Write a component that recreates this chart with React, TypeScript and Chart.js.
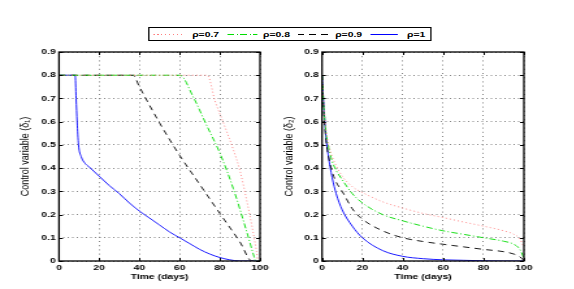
import React, { useEffect, useRef } from "react";
import { Chart, registerables } from "chart.js";

Chart.register(...registerables);

// ---- data ----
const seriesLabels = ["ρ=0.7", "ρ=0.8", "ρ=0.9", "ρ=1"];
const xTicks = [0, 20, 40, 60, 80, 100];
const yTicks = [0, 0.1, 0.2, 0.3, 0.4, 0.5, 0.6, 0.7, 0.8, 0.9];

// Left panel: control variable delta1
const d1Rho07T = [0, 73.8, 77.6, 82, 86.7, 90, 93.4, 96, 98.3, 99, 100];
const d1Rho07V = [0.8, 0.8, 0.69, 0.59, 0.48, 0.39, 0.26, 0.15, 0.04, 0, 0];
const d1Rho08T = [0, 60.1, 66.8, 73.4, 80.1, 86.7, 93.4, 97, 97.8, 100];
const d1Rho08V = [0.8, 0.8, 0.706, 0.585, 0.463, 0.312, 0.126, 0.02, 0, 0];
const d1Rho09T = [0, 36.9, 40, 50, 60, 70, 80, 90, 96, 100];
const d1Rho09V = [0.8, 0.8, 0.75, 0.595, 0.455, 0.33, 0.205, 0.082, 0, 0];
const d1Rho10T = [0, 8, 8.5, 9, 9.7, 11, 13, 15, 20, 25, 30, 35, 40, 45, 50, 55, 60, 65, 70, 75, 80, 85, 90, 100];
const d1Rho10V = [0.8, 0.8, 0.7, 0.6, 0.5, 0.45, 0.42, 0.405, 0.365, 0.325, 0.29, 0.25, 0.215, 0.185, 0.155, 0.125, 0.1, 0.075, 0.05, 0.03, 0.015, 0.005, 0, 0];

// Right panel: control variable delta2
const d2T = [0, 1, 2, 3, 5, 7, 10, 15, 20, 30, 40, 50, 60, 70, 80, 90, 95, 98, 100];
const d2Rho07V = [0.8, 0.66, 0.56, 0.51, 0.45, 0.41, 0.365, 0.32, 0.295, 0.255, 0.228, 0.205, 0.187, 0.168, 0.15, 0.13, 0.115, 0.095, 0.06];
const d2Rho08V = [0.8, 0.65, 0.55, 0.5, 0.43, 0.39, 0.35, 0.29, 0.25, 0.2, 0.173, 0.15, 0.13, 0.115, 0.1, 0.085, 0.072, 0.05, 0.012];
const d2Rho09V = [0.8, 0.62, 0.52, 0.46, 0.385, 0.34, 0.3, 0.225, 0.18, 0.13, 0.1, 0.084, 0.072, 0.061, 0.05, 0.04, 0.03, 0.018, 0.002];
const d2Rho10V = [0.8, 0.65, 0.53, 0.46, 0.36, 0.29, 0.22, 0.15, 0.1, 0.045, 0.02, 0.01, 0.005, 0.003, 0.001, 0, 0, 0, 0];

// ---- styles ----
const S = 1.3; // horizontal stretch of the reference
const W = 574 / S;
const colors = ["#ff7f7f", "#00dd00", "#000000", "#0000ff"];
const dashes: number[][] = [[1, 2.2], [5, 2, 1, 2], [5, 4], []];
const FONT = "'Liberation Sans', Arial, Helvetica, sans-serif";

function pts(t: number[], v: number[]) {
  return t.map((x, i) => ({ x, y: v[i] }));
}

const frame = {
  id: "frame",
  afterDatasetsDraw(chart: any) {
    const { ctx, chartArea: a, scales } = chart;
    ctx.save();
    ctx.strokeStyle = "#000";
    ctx.lineWidth = 1;
    const tl = 3;
    ctx.beginPath();
    for (const v of xTicks) {
      const px = Math.round(scales.x.getPixelForValue(v)) + 0.5;
      ctx.moveTo(px, a.bottom);
      ctx.lineTo(px, a.bottom - tl);
      ctx.moveTo(px, a.top);
      ctx.lineTo(px, a.top + tl);
    }
    for (const v of yTicks) {
      const py = Math.round(scales.y.getPixelForValue(v)) + 0.5;
      ctx.moveTo(a.left, py);
      ctx.lineTo(a.left + tl, py);
      ctx.moveTo(a.right, py);
      ctx.lineTo(a.right - tl, py);
    }
    ctx.stroke();
    ctx.lineWidth = 1.3;
    ctx.strokeRect(a.left, a.top, a.right - a.left, a.bottom - a.top);
    ctx.restore();
  },
};

function makeChart(
  canvas: HTMLCanvasElement,
  data: { x: number; y: number }[][],
  yTitle: string,
  yAxisWidth: number,
  yTitlePad: number,
  padRight: number
) {
  return new Chart(canvas, {
    type: "line",
    data: {
      datasets: data.map((d, i) => ({
        label: seriesLabels[i],
        data: d,
        borderColor: colors[i],
        borderWidth: i === 3 ? 0.9 : 0.9,
        borderDash: dashes[i],
        pointRadius: 0,
        fill: false,
        cubicInterpolationMode: "monotone" as const,
      })),
    },
    options: {
      animation: false,
      responsive: false,
      devicePixelRatio: 1,
      layout: { padding: { top: 52, right: padRight, left: 0, bottom: 0 } },
      plugins: { legend: { display: false }, tooltip: { enabled: false } },
      scales: {
        x: {
          type: "linear",
          min: 0,
          max: 100,
          afterBuildTicks: (s: any) => {
            s.ticks = xTicks.map((v) => ({ value: v }));
          },
          afterFit: (s: any) => {
            s.height = 28;
          },
          ticks: {
            color: "#000",
            font: { family: FONT, size: 8, weight: "bold" },
            padding: 2,
            maxRotation: 0,
            callback: (v: any) => String(v),
          },
          grid: {
            color: "#666",
            lineWidth: 0.8,
            drawTicks: false,
          },
          border: { display: false, dash: [1, 3.2] },
          title: {
            display: true,
            text: "Time (days)",
            color: "#000",
            font: { family: FONT, size: 8, weight: "bold" },
            padding: { top: 0, bottom: 7 },
          },
        },
        y: {
          type: "linear",
          min: 0,
          max: 0.9,
          afterBuildTicks: (s: any) => {
            s.ticks = yTicks.map((v) => ({ value: v }));
          },
          afterFit: (s: any) => {
            s.width = yAxisWidth;
          },
          ticks: {
            color: "#000",
            font: { family: FONT, size: 8, weight: "bold" },
            padding: 2.5,
            callback: (v: any) => (v === 0 ? "0" : Number(v).toFixed(1)),
          },
          grid: {
            color: "#666",
            lineWidth: 0.8,
            drawTicks: false,
          },
          border: { display: false, dash: [1, 2.5] },
          title: {
            display: true,
            text: yTitle,
            color: "#000",
            font: { family: FONT, size: 9, weight: "normal" },
            padding: { top: yTitlePad, bottom: 0 },
          },
        },
      },
    },
    plugins: [frame],
  } as any);
}

function LineSample({ i, left, width }: { i: number; left: number; width: number }) {
  let bg = "";
  const c = colors[i];
  if (i === 0) bg = `repeating-linear-gradient(to right, ${c} 0 1px, transparent 1px 3px)`;
  else if (i === 1)
    bg = `repeating-linear-gradient(to right, ${c} 0 5px, transparent 5px 7px, ${c} 7px 8px, transparent 8px 10px)`;
  else if (i === 2) bg = `repeating-linear-gradient(to right, ${c} 0 5px, transparent 5px 9px)`;
  else bg = c;
  return (
    <div
      style={{
        position: "absolute",
        left,
        top: 6,
        width,
        height: 1,
        background: bg,
      }}
    />
  );
}

function LegendText({ text, left }: { text: string; left: number }) {
  return (
    <div
      style={{
        position: "absolute",
        left,
        top: 0,
        height: 13,
        lineHeight: "13px",
        fontFamily: FONT,
        fontSize: 8,
        fontWeight: "bold",
        color: "#000",
        whiteSpace: "nowrap",
      }}
    >
      {text}
    </div>
  );
}

export default function App() {
  const leftRef = useRef<HTMLCanvasElement>(null);
  const rightRef = useRef<HTMLCanvasElement>(null);

  useEffect(() => {
    const c1 = makeChart(
      leftRef.current!,
      [pts(d1Rho07T, d1Rho07V), pts(d1Rho08T, d1Rho08V), pts(d1Rho09T, d1Rho09V), pts(d1Rho10T, d1Rho10V)],
      "Control variable (δ₁)",
      45.4,
      13.8,
      22
    );
    const c2 = makeChart(
      rightRef.current!,
      [pts(d2T, d2Rho07V), pts(d2T, d2Rho08V), pts(d2T, d2Rho09V), pts(d2T, d2Rho10V)],
      "Control variable (δ₂)",
      32.7,
      1.9,
      38
    );
    return () => {
      c1.destroy();
      c2.destroy();
    };
  }, []);

  return (
    <div
      style={{
        position: "fixed",
        left: 0,
        top: 0,
        width: 574,
        height: 289,
        overflow: "hidden",
        background: "#fff",
      }}
    >
      <div
        style={{
          position: "absolute",
          left: 0,
          top: 0,
          width: W,
          height: 289,
          transform: `scaleX(${S})`,
          transformOrigin: "0 0",
        }}
      >
        <canvas ref={leftRef} width={222} height={289} style={{ position: "absolute", left: 0, top: 0 }} />
        <canvas ref={rightRef} width={226} height={289} style={{ position: "absolute", left: 215, top: 0 }} />
        <div
          style={{
            position: "absolute",
            left: 113.8,
            top: 27,
            width: 216,
            height: 12,
            border: "1px solid #000",
            background: "#fff",
          }}
        >
          <LineSample i={0} left={3} width={23} />
          <LegendText text={seriesLabels[0]} left={33} />
          <LineSample i={1} left={60} width={23} />
          <LegendText text={seriesLabels[1]} left={87.5} />
          <LineSample i={2} left={114.5} width={24.6} />
          <LegendText text={seriesLabels[2]} left={143} />
          <LineSample i={3} left={170} width={21.6} />
          <LegendText text={seriesLabels[3]} left={198.3} />
        </div>
      </div>
    </div>
  );
}
